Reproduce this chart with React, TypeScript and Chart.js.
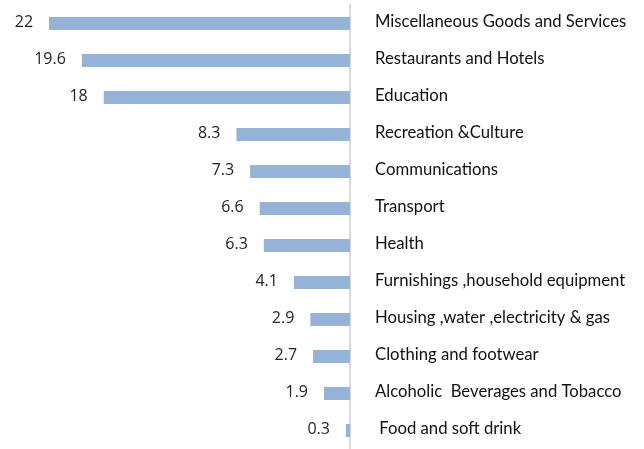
import React, { useEffect, useRef } from "react";
import { Chart, registerables } from "chart.js";

Chart.register(...registerables);

const categories = [
  "Miscellaneous Goods and Services",
  "Restaurants and Hotels",
  "Education",
  "Recreation &Culture",
  "Communications",
  "Transport",
  "Health",
  "Furnishings ,household equipment",
  "Housing ,water ,electricity & gas",
  "Clothing and footwear",
  "Alcoholic  Beverages and Tobacco",
  " Food and soft drink",
];

const values = [22, 19.6, 18, 8.3, 7.3, 6.6, 6.3, 4.1, 2.9, 2.7, 1.9, 0.3];

const valueLabels = values.map((v) => String(v));

const valueLabelPlugin = {
  id: "valueLabels",
  afterDatasetsDraw(chart: any) {
    const ctx = chart.ctx;
    const meta = chart.getDatasetMeta(0);
    ctx.save();
    ctx.font = "16px 'Open Sans'";
    ctx.fillStyle = "#222";
    ctx.textAlign = "right";
    ctx.textBaseline = "middle";
    meta.data.forEach((el: any, i: number) => {
      ctx.fillText(valueLabels[i], el.x - 16, el.y - 1);
    });
    ctx.restore();
  },
};

export default function App() {
  const ref = useRef<HTMLCanvasElement>(null);
  useEffect(() => {
    if (!ref.current) return;
    const chart = new Chart(ref.current, {
      type: "bar",
      data: {
        labels: categories,
        datasets: [
          {
            data: values,
            backgroundColor: "#95B3D7",
            barPercentage: 0.35,
            categoryPercentage: 1,
          },
        ],
      },
      options: {
        indexAxis: "y",
        animation: false,
        responsive: false,
        devicePixelRatio: 1,
        layout: { padding: { left: 8, top: 5, right: 0, bottom: 0 } },
        plugins: { legend: { display: false }, tooltip: { enabled: false } },
        scales: {
          x: { reverse: true, min: 0, max: 25, display: false },
          y: {
            position: "right",
            grid: { display: false, drawTicks: false },
            border: { display: true, color: "#d9d9d9", width: 2 },
            ticks: {
              padding: 25,
              labelOffset: -2,
              color: "#111",
              font: { family: "Lato", size: 16.7 },
            },
            afterFit: (s: any) => {
              s.width = 294;
              s.paddingTop = 0;
              s.paddingBottom = 0;
            },
          },
        },
      },
      plugins: [valueLabelPlugin],
    });
    return () => chart.destroy();
  }, []);
  return (
    <div style={{ position: "absolute", left: 0, top: 0, width: 644, height: 449 }}>
      <canvas ref={ref} width={644} height={449} style={{ display: "block" }} />
    </div>
  );
}
